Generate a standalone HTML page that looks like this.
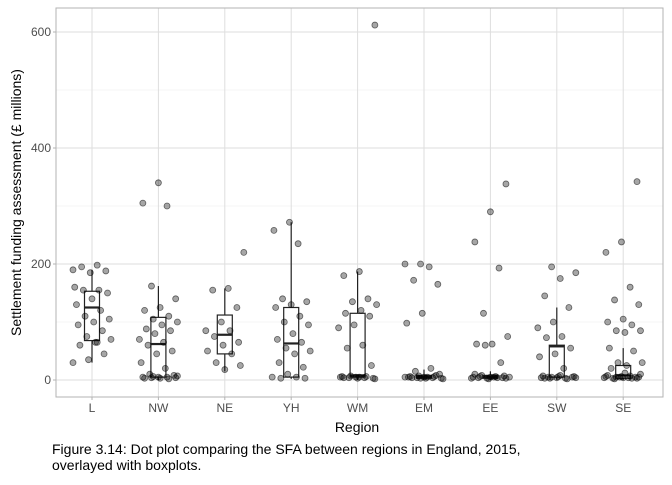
<!DOCTYPE html>
<html><head><meta charset="utf-8">
<style>
body{margin:0;background:#fff;font-family:"Liberation Sans",sans-serif;}
svg text{font-family:"Liberation Sans",sans-serif;}
</style></head>
<body>
<svg id="chart" width="672" height="480" xmlns="http://www.w3.org/2000/svg"></svg>
<script>
const categories=["L","NW","NE","YH","WM","EM","EE","SW","SE"];
const yTicks=[0,200,400,600];
const ptsL=[190,198,195,188,185,160,155,155,150,140,130,120,110,105,100,95,85,75,70,65,60,45,35,30,65];
const ptsNW=[340,305,300,162,140,125,120,110,105,100,95,88,85,80,70,65,60,50,45,30,20,10,8,5,5,5,4,4,3,3,2,6,7];
const ptsNE=[220,158,155,125,100,85,85,75,65,60,50,45,30,25,18];
const ptsYH=[272,258,235,140,135,130,125,110,100,95,80,70,65,55,50,45,30,22,10,5,5,3,3];
const ptsWM=[612,187,180,140,135,130,120,115,110,95,90,60,55,25,5,5,4,4,3,3,6,6,7,2,5,4];
const ptsEM=[200,200,195,172,165,115,98,20,15,10,5,5,4,4,3,3,6,6,7,2,5,4,8,3,5];
const ptsEE=[338,290,238,193,115,75,62,62,30,60,5,5,4,4,3,3,6,6,7,2,5,4,8,3,5,10];
const ptsSW=[195,185,175,145,125,100,90,75,73,55,45,40,20,5,5,4,4,3,3,6,6,7,2,5,4,8,3];
const ptsSE=[342,238,220,160,138,130,105,100,95,85,85,82,55,50,30,30,25,20,5,5,4,4,3,3,6,6,7,2,5,4,8,3,5,10,12];
const points=[ptsL,ptsNW,ptsNE,ptsYH,ptsWM,ptsEM,ptsEE,ptsSW,ptsSE];
const boxMin=[30,0,15,2,0,0,0,0,0];
const boxQ1=[68,5,45,5,5,3,3,5,3];
const boxMed=[125,62,78,63,8,5,5,58,8];
const boxQ3=[153,108,112,125,115,8,8,60,25];
const boxMax=[190,162,158,272,187,18,15,125,55];

const NS="http://www.w3.org/2000/svg";
const svg=document.getElementById('chart');
const L=56,R=663,T=8,B=397;
const y0=380,pxPer=0.58;
const yS=v=>y0-v*pxPer;
const x0=92,step=66.4;
const xS=i=>x0+step*i;
function mk(t,a,p){const e=document.createElementNS(NS,t);for(const k in a)e.setAttribute(k,a[k]);(p||svg).appendChild(e);return e;}

const panel=mk('rect',{x:L,y:T,width:R-L,height:B-T,fill:'#fff'});


for(let v=0;v<=650;v+=100){
  const g=mk('line',{x1:L,x2:R,y1:yS(v),y2:yS(v),stroke:v%200===0?'#dedede':'#ececec','stroke-width':v%200===0?1:0.6});
  
  
}
categories.forEach((c,i)=>{
  const g=mk('line',{x1:xS(i),x2:xS(i),y1:T,y2:B,stroke:'#dedede','stroke-width':1});
  
  
});
categories.forEach((c,i)=>{
  const x=xS(i),w=15;
  const grp=mk('g',{});
  
  
  mk('line',{x1:x,x2:x,y1:yS(boxMax[i]),y2:yS(boxQ3[i]),stroke:'#222','stroke-width':1.2},grp);
  mk('line',{x1:x,x2:x,y1:yS(boxQ1[i]),y2:yS(boxMin[i]),stroke:'#222','stroke-width':1.2},grp);
  mk('rect',{x:x-w/2,y:yS(boxQ3[i]),width:w,height:Math.max(0.5,yS(boxQ1[i])-yS(boxQ3[i])),fill:'#fff',stroke:'#222','stroke-width':1.2},grp);
  mk('line',{x1:x-w/2,x2:x+w/2,y1:yS(boxMed[i]),y2:yS(boxMed[i]),stroke:'#222','stroke-width':2.2},grp);
});
points.forEach((arr,i)=>{
  arr.forEach((v,j)=>{
    const off=(((j*37+i*11)%23)/22-0.5)*38;
    const p=mk('circle',{cx:xS(i)+off,cy:yS(v),r:3,fill:'rgba(0,0,0,0.35)',stroke:'rgba(0,0,0,0.55)','stroke-width':0.8});
    
    
  });
});
const border=mk('rect',{x:L,y:T,width:R-L,height:B-T,fill:'none',stroke:'#b3b3b3','stroke-width':1});


yTicks.forEach(v=>{
  mk('line',{x1:L-3,x2:L,y1:yS(v),y2:yS(v),stroke:'#b3b3b3'});
  const t=mk('text',{x:L-5,y:yS(v)+4,'text-anchor':'end','font-size':12,fill:'#4d4d4d'});
  t.textContent=v;
  
  
});
categories.forEach((c,i)=>{
  mk('line',{x1:xS(i),x2:xS(i),y1:B,y2:B+3,stroke:'#b3b3b3'});
  const t=mk('text',{x:xS(i),y:B+15,'text-anchor':'middle','font-size':12,fill:'#4d4d4d'});
  t.textContent=c;
  
  
});
const xt=mk('text',{x:357,y:432,'text-anchor':'middle','font-size':14,fill:'#000'});
xt.textContent='Region';


const yt=mk('text',{x:0,y:0,'text-anchor':'middle','font-size':14,fill:'#000',transform:'translate(21,'+((T+B)/2)+') rotate(-90)'});
yt.textContent='Settlement funding assessment (£ millions)';


const c1=mk('text',{x:52,y:454,'font-size':14,fill:'#000'});
c1.textContent='Figure 3.14: Dot plot comparing the SFA between regions in England, 2015,';


const c2=mk('text',{x:52,y:470,'font-size':14,fill:'#000'});
c2.textContent='overlayed with boxplots.';


</script>
</body></html>
